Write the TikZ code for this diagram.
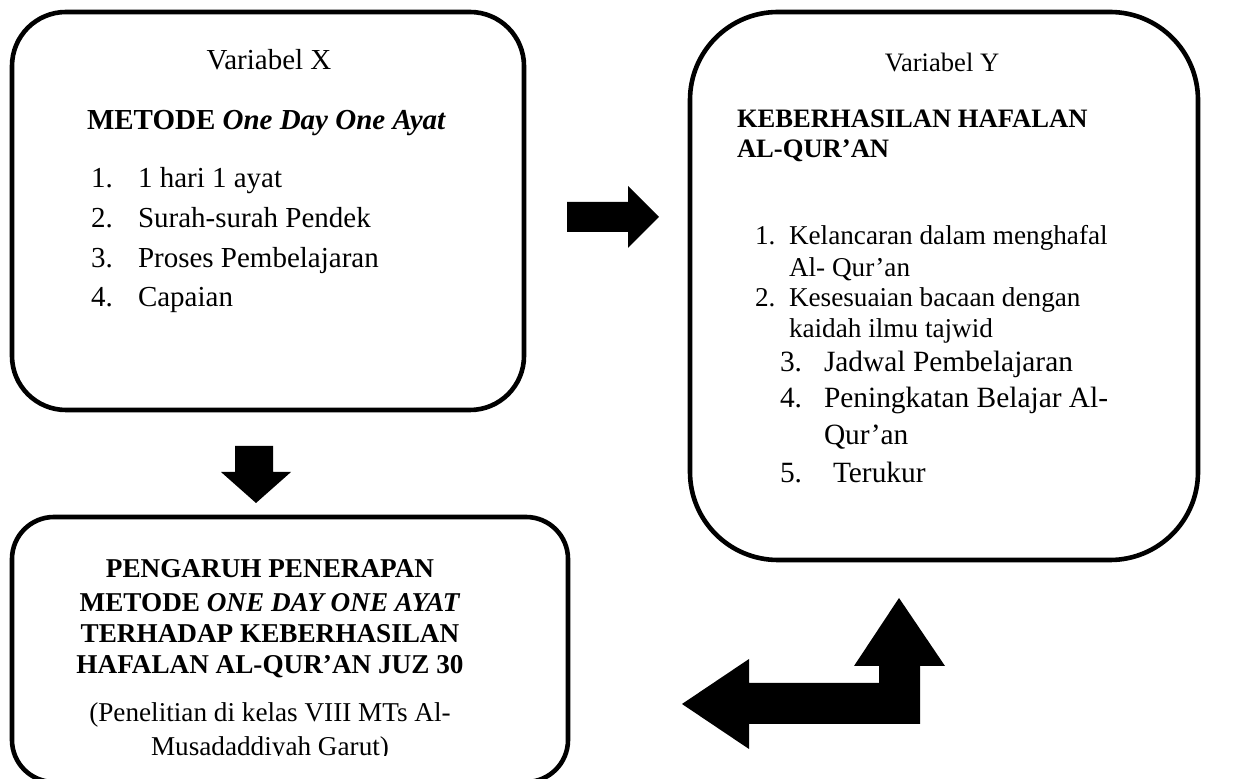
\documentclass[tikz,border=0pt]{standalone}
\usepackage{fontspec}
\setmainfont{Liberation Serif}
\newcommand{\fsA}{\fontsize{14.5pt}{17pt}\selectfont}
\newcommand{\fsB}{\fontsize{13.3pt}{16pt}\selectfont}
\newcommand{\fsC}{\fontsize{13.6pt}{16pt}\selectfont}
\newcommand{\fsD}{\fontsize{14.7pt}{17pt}\selectfont}
\begin{document}
\begin{tikzpicture}[x=0.5pt,y=-0.5pt,
  box/.style={draw=black, line width=2.3pt, fill=none, inner sep=0pt, outer sep=0pt},
  txt/.style={inner sep=0pt, outer sep=0pt, anchor=base west},
  ctxt/.style={inner sep=0pt, outer sep=0pt, anchor=base},
  blk/.style={fill=black, draw=none}]
\useasboundingbox (0,0) rectangle (1248,779);
% boxes
\node[box, rounded corners=27pt, minimum width=256pt, minimum height=199pt] (bx) at (268,211) {};
\node[box, rounded corners=44pt, minimum width=254pt, minimum height=274pt] (by) at (944,286) {};
\node[box, rounded corners=21pt, minimum width=278pt, minimum height=132.5pt] (bz) at (290,649.5) {};
% box X text
\node[ctxt, font=\fsA] (vx) at (269,70) {Variabel X};
\node[txt, font=\fsA] (mx) at (87,130) {\textbf{METODE \textit{One Day One Ayat}}};
\node[txt, font=\fsA] (x1n) at (91,188) {1.};
\node[txt, font=\fsA] (x1) at (138,188) {1 hari 1 ayat};
\node[txt, font=\fsA] (x2n) at (91,228) {2.};
\node[txt, font=\fsA] (x2) at (138,228) {Surah-surah Pendek};
\node[txt, font=\fsA] (x3n) at (91,268) {3.};
\node[txt, font=\fsA] (x3) at (138,268) {Proses Pembelajaran};
\node[txt, font=\fsA] (x4n) at (91,307) {4.};
\node[txt, font=\fsA] (x4) at (138,307) {Capaian};
% box Y text
\node[ctxt, font=\fsB] (vy) at (942,72) {Variabel Y};
\node[txt, font=\fsB] (ky1) at (737,128) {\textbf{KEBERHASILAN HAFALAN}};
\node[txt, font=\fsB] (ky2) at (737,158) {\textbf{AL-QUR’AN}};
\node[txt, font=\fsC] (y1n) at (755,245) {1.};
\node[txt, font=\fsC] (y1) at (789,245) {Kelancaran dalam menghafal};
\node[txt, font=\fsC] (y1b) at (789,277) {Al- Qur’an};
\node[txt, font=\fsC] (y2n) at (755,307) {2.};
\node[txt, font=\fsC] (y2) at (789,307) {Kesesuaian bacaan dengan};
\node[txt, font=\fsC] (y2b) at (789,338) {kaidah ilmu tajwid};
\node[txt, font=\fsD] (y3n) at (780,372) {3.};
\node[txt, font=\fsD] (y3) at (824,372) {Jadwal Pembelajaran};
\node[txt, font=\fsD] (y4n) at (780,408) {4.};
\node[txt, font=\fsD] (y4) at (824,408) {Peningkatan Belajar Al-};
\node[txt, font=\fsD] (y4b) at (824,445) {Qur’an};
\node[txt, font=\fsD] (y5n) at (780,483) {5.};
\node[txt, font=\fsD] (y5) at (833,483) {Terukur};
% bottom box text
\node[ctxt, font=\fsC] (z1) at (270,578) {\textbf{PENGARUH PENERAPAN}};
\node[ctxt, font=\fsC] (z2) at (270,612) {\textbf{METODE \textit{ONE DAY ONE AYAT}}};
\node[ctxt, font=\fsC] (z3) at (270,643) {\textbf{TERHADAP KEBERHASILAN}};
\node[ctxt, font=\fsC] (z4) at (270,674) {\textbf{HAFALAN AL-QUR’AN JUZ 30}};
\node[ctxt, font=\fsC] (z5) at (270,722) {(Penelitian di kelas VIII MTs Al-};
\begin{scope}
\clip (0,0) rectangle (1248,756);
\node[ctxt, font=\fsC] (z6) at (270,756) {Musadaddiyah Garut)};
\end{scope}
% block arrows
\fill[blk] (567,202) -- (628,202) -- (628,186) -- (659,217) -- (628,248) -- (628,232) -- (567,232) -- cycle;
\fill[blk] (235,446) -- (273,446) -- (273,472) -- (291,472) -- (256,503) -- (221,472) -- (235,472) -- cycle;
\fill[blk] (682,704) -- (749,659) -- (749,683) -- (879,683) -- (879,666) -- (854,666) -- (899,598) -- (945,666) -- (920,666) -- (920,724) -- (749,724) -- (749,749) -- cycle;
\end{tikzpicture}
\end{document}
